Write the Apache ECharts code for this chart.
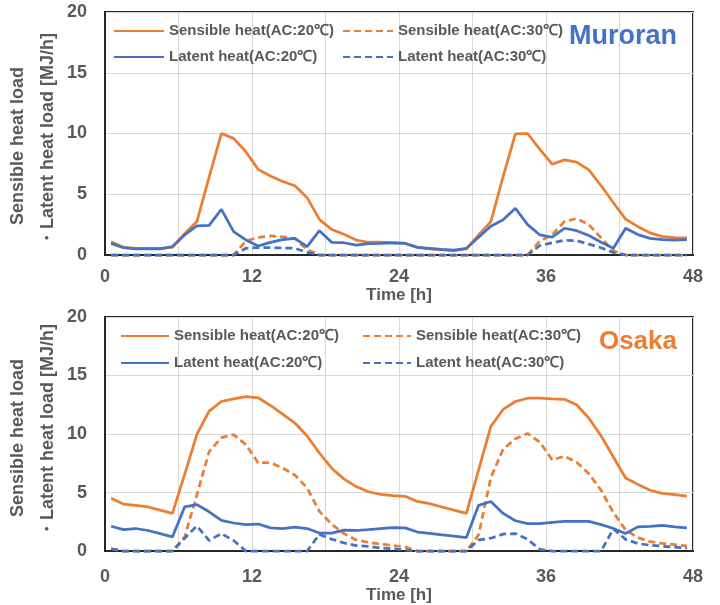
<!DOCTYPE html>
<html>
<head>
<meta charset="utf-8">
<script src="https://cdn.jsdelivr.net/npm/echarts@6/dist/echarts.min.js"></script>
<style>
  html, body { margin: 0; padding: 0; background: #fff; }
  #chart { width: 720px; height: 605px; }
</style>
</head>
<body>
<div id="chart"></div>
<script>
// Hourly sample times (mid-hour) over two days
const hours = [0.5, 1.5, 2.5, 3.5, 4.5, 5.5, 6.5, 7.5, 8.5, 9.5, 10.5, 11.5,
  12.5, 13.5, 14.5, 15.5, 16.5, 17.5, 18.5, 19.5, 20.5, 21.5, 22.5, 23.5,
  24.5, 25.5, 26.5, 27.5, 28.5, 29.5, 30.5, 31.5, 32.5, 33.5, 34.5, 35.5,
  36.5, 37.5, 38.5, 39.5, 40.5, 41.5, 42.5, 43.5, 44.5, 45.5, 46.5, 47.5];

const xTickLabels = [0, 12, 24, 36, 48];
const yTickLabels = [0, 5, 10, 15, 20];

const seriesNames = ['Sensible heat(AC:20℃)', 'Sensible heat(AC:30℃)',
  'Latent heat(AC:20℃)', 'Latent heat(AC:30℃)'];

// Muroran [MJ/h]
const muroranSensible20 = [1.1, 0.63, 0.55, 0.55, 0.55, 0.63, 1.75, 2.75, 6.4, 10.0, 9.6, 8.5,
  7.05, 6.5, 6.05, 5.7, 4.72, 2.93, 2.1, 1.7, 1.23, 1.05, 1.05, 1.02,
  0.96, 0.63, 0.5, 0.42, 0.35, 0.5, 1.65, 2.75, 6.45, 9.97, 10.0, 8.7,
  7.47, 7.83, 7.64, 7.0, 5.7, 4.3, 2.95, 2.33, 1.82, 1.51, 1.43, 1.4];
const muroranSensible30 = [0, 0, 0, 0, 0, 0, 0, 0, 0, 0, 0, 1.15,
  1.45, 1.57, 1.5, 1.35, 0.45, 0, 0, 0, 0, 0, 0, 0,
  0, 0, 0, 0, 0, 0, 0, 0, 0, 0, 0, 1.15,
  1.65, 2.75, 3.0, 2.5, 1.4, 0.35, 0, 0, 0, 0, 0, 0];
const muroranLatent20 = [0.96, 0.6, 0.5, 0.5, 0.5, 0.7, 1.65, 2.39, 2.44, 3.76, 1.92, 1.24,
  0.74, 1.04, 1.27, 1.37, 0.69, 2.0, 1.04, 1.01, 0.82, 0.94, 0.95, 1.0,
  0.95, 0.63, 0.55, 0.46, 0.4, 0.55, 1.46, 2.36, 2.9, 3.85, 2.5, 1.65,
  1.46, 2.2, 2.0, 1.6, 1.05, 0.55, 2.2, 1.68, 1.37, 1.27, 1.22, 1.26];
const muroranLatent30 = [0, 0, 0, 0, 0, 0, 0, 0, 0, 0, 0, 0.55,
  0.6, 0.6, 0.58, 0.55, 0.22, 0, 0, 0, 0, 0, 0, 0,
  0, 0, 0, 0, 0, 0, 0, 0, 0, 0, 0, 0.78,
  1.0, 1.22, 1.18, 0.9, 0.6, 0.2, 0, 0, 0, 0, 0, 0];

// Osaka [MJ/h]
const osakaSensible20 = [4.52, 4.02, 3.91, 3.77, 3.5, 3.22, 6.53, 9.97, 11.96, 12.78, 13.0, 13.2,
  13.1, 12.45, 11.7, 10.94, 9.83, 8.38, 7.08, 6.17, 5.51, 5.07, 4.85, 4.74,
  4.68, 4.24, 4.05, 3.77, 3.5, 3.22, 6.94, 10.66, 12.1, 12.78, 13.06, 13.06,
  13.0, 12.97, 12.5, 11.35, 9.83, 8.04, 6.25, 5.7, 5.2, 4.93, 4.82, 4.7];
const osakaSensible30 = [0.2, 0, 0, 0, 0, 0, 1.2, 4.8, 8.5, 9.7, 9.95, 9.1,
  7.55, 7.55, 7.1, 6.5, 5.4, 3.4, 2.3, 1.5, 0.95, 0.75, 0.6, 0.47,
  0.35, 0, 0, 0, 0, 0, 1.4, 6.3, 8.7, 9.6, 10.05, 9.3,
  7.8, 8.1, 7.6, 6.6, 5.2, 3.3, 1.8, 1.15, 0.8, 0.65, 0.55, 0.45];
const osakaLatent20 = [2.12, 1.84, 1.93, 1.76, 1.49, 1.21, 3.77, 3.97, 3.36, 2.62, 2.4, 2.26,
  2.31, 1.98, 1.93, 2.04, 1.93, 1.54, 1.54, 1.79, 1.76, 1.84, 1.93, 2.01,
  1.98, 1.63, 1.51, 1.38, 1.27, 1.16, 3.91, 4.24, 3.22, 2.59, 2.34, 2.34,
  2.45, 2.54, 2.54, 2.54, 2.26, 1.93, 1.51, 2.07, 2.12, 2.2, 2.07, 1.98];
const osakaLatent30 = [0.2, 0, 0, 0, 0, 0, 1.1, 2.15, 0.9, 1.5, 0.9, 0,
  0, 0, 0, 0, 0, 1.43, 1.02, 0.7, 0.47, 0.4, 0.27, 0.2,
  0.08, 0, 0, 0, 0, 0, 0.95, 1.1, 1.45, 1.5, 1.0, 0.15,
  0, 0, 0, 0, 0, 1.9, 1.0, 0.65, 0.5, 0.42, 0.33, 0.25];

const ORANGE = '#ED7D31';
const BLUE = '#4472C4';
const GREY = '#595959';
const FONT = "'Liberation Sans', Arial, sans-serif";

function pairs(values) {
  return hours.map((h, i) => [h, values[i]]);
}

function lineSeries(name, values, color, dashed, gridIndex) {
  return {
    type: 'line',
    name: name,
    xAxisIndex: gridIndex,
    yAxisIndex: gridIndex,
    data: pairs(values),
    symbol: 'none',
    clip: false,
    lineStyle: { color: color, width: 2.75, type: dashed ? [7, 4] : 'solid' },
    itemStyle: { color: color },
    emphasis: { disabled: true }
  };
}

function xAxisFor(gridIndex, labelMargin, nameGap) {
  return {
    type: 'value', gridIndex: gridIndex, min: 0, max: 48, interval: 6,
    name: 'Time [h]', nameLocation: 'middle', nameGap: nameGap,
    nameTextStyle: { color: GREY, fontSize: 17, fontWeight: 'bold', fontFamily: FONT },
    axisLine: { show: true, lineStyle: { color: '#262626', width: 2 } },
    axisTick: { show: false },
    axisLabel: {
      color: GREY, fontSize: 18, fontWeight: 'bold', fontFamily: FONT, margin: labelMargin,
      formatter: v => (xTickLabels.indexOf(v) >= 0 ? String(v) : '')
    },
    splitLine: { show: true, lineStyle: { color: '#D9D9D9', width: 1 } }
  };
}

function yAxisFor(gridIndex) {
  return {
    type: 'value', gridIndex: gridIndex, min: 0, max: 20, interval: 5,
    axisLine: { show: true, lineStyle: { color: '#262626', width: 2 } },
    axisTick: { show: false },
    axisLabel: {
      color: GREY, fontSize: 18, fontWeight: 'bold', fontFamily: FONT, margin: 18,
      formatter: v => (yTickLabels.indexOf(v) >= 0 ? String(v) : '')
    },
    splitLine: { show: true, lineStyle: { color: '#D9D9D9', width: 1 } }
  };
}

// Legend columns show only the line sample (marker hidden)
function legendColumn(names, left, top, itemWidth, gap) {
  return {
    data: names, orient: 'vertical', left: left, top: top,
    itemWidth: itemWidth, itemHeight: 16, itemGap: gap, padding: 0,
    selectedMode: false,
    itemStyle: { opacity: 0 },
    textStyle: { color: GREY, fontSize: 15, fontWeight: 'bold', fontFamily: FONT, lineHeight: 16 }
  };
}

function axisTitle(x, y, text) {
  return {
    type: 'text', x: x, y: y, rotation: Math.PI / 2,
    style: {
      text: text, fill: GREY, font: 'bold 18px ' + FONT,
      textAlign: 'center', textVerticalAlign: 'middle'
    }
  };
}

const chart = echarts.init(document.getElementById('chart'), null, { renderer: 'canvas' });

chart.setOption({
  animation: false,
  backgroundColor: '#fff',
  grid: [
    { left: 105, top: 12, width: 588, height: 243, show: true, borderColor: '#262626', borderWidth: 2, backgroundColor: 'transparent' },
    { left: 105, top: 317, width: 588, height: 242, show: true, borderColor: '#262626', borderWidth: 2, backgroundColor: 'transparent' }
  ],
  xAxis: [xAxisFor(0, 13, 25), xAxisFor(1, 17, 30)],
  yAxis: [yAxisFor(0), yAxisFor(1)],
  legend: [
    legendColumn([seriesNames[0], seriesNames[2]], 113, 23, 50, 10),
    legendColumn([seriesNames[1], seriesNames[3]], 342, 23, 50, 10),
    legendColumn([seriesNames[0], seriesNames[2]], 120, 328, 48, 11),
    legendColumn([seriesNames[1], seriesNames[3]], 362, 328, 48, 11)
  ],
  graphic: [
    axisTitle(18, 146, 'Sensible heat load'),
    axisTitle(48, 140, '・Latent heat load [MJ/h]'),
    axisTitle(18, 438, 'Sensible heat load'),
    axisTitle(48, 431, '・Latent heat load [MJ/h]'),
    {
      type: 'text', x: 677, y: 37,
      style: { text: 'Muroran', fill: BLUE, font: 'bold 27px ' + FONT, textAlign: 'right', textVerticalAlign: 'middle' }
    },
    {
      type: 'text', x: 677, y: 342,
      style: { text: 'Osaka', fill: ORANGE, font: 'bold 26px ' + FONT, textAlign: 'right', textVerticalAlign: 'middle' }
    }
  ],
  series: [
    lineSeries(seriesNames[0], muroranSensible20, ORANGE, false, 0),
    lineSeries(seriesNames[1], muroranSensible30, ORANGE, true, 0),
    lineSeries(seriesNames[2], muroranLatent20, BLUE, false, 0),
    lineSeries(seriesNames[3], muroranLatent30, BLUE, true, 0),
    lineSeries(seriesNames[0], osakaSensible20, ORANGE, false, 1),
    lineSeries(seriesNames[1], osakaSensible30, ORANGE, true, 1),
    lineSeries(seriesNames[2], osakaLatent20, BLUE, false, 1),
    lineSeries(seriesNames[3], osakaLatent30, BLUE, true, 1)
  ]
});
</script>
</body>
</html>
